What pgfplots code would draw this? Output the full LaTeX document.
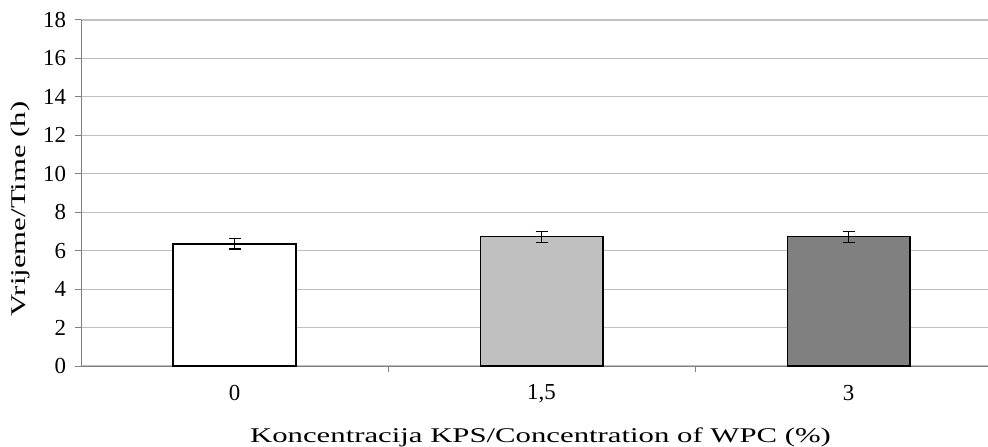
\documentclass[border=0pt]{standalone}
\usepackage{pgfplots}
\pgfplotsset{compat=1.18}
\usepackage{fontspec}
\setmainfont{Liberation Serif}
\newfontfamily\lblfont[FakeStretch=1.47]{Liberation Serif}
\definecolor{gridc}{HTML}{BFBFBF}
\definecolor{axc}{HTML}{808080}
\definecolor{barA}{HTML}{FFFFFF}
\definecolor{barB}{HTML}{C0C0C0}
\definecolor{barC}{HTML}{808080}
\begin{document}
\fontsize{23}{27}\selectfont
\begin{tikzpicture}
\begin{axis}[
  at={(0,0)}, anchor=south west,
  scale only axis,
  width=907bp, height=346bp,
  xmin=-0.5, xmax=2.454,
  ymin=0, ymax=18,
  ytick={0,2,...,18},
  xtick={0,1,2},
  xticklabels={0,{1,5},3},
  minor xtick={0.5,1.5},
  axis x line*=bottom,
  axis y line*=left,
  axis line style={axc, line width=1pt},
  ymajorgrids,
  grid style={gridc, line width=1.2pt},
  major tick length=6bp,
  minor tick length=6bp,
  tick align=outside,
  xtick style={draw=none},
  minor x tick style={draw=axc, line width=1pt},
  ytick style={axc, line width=1pt},
  tick label style={font=\fontsize{23}{27}\selectfont},
  /pgf/number format/assume math mode=true,
  xticklabel style={yshift=-5bp},
  yticklabel style={xshift=-1bp},
  xlabel={Koncentracija KPS/Concentration of WPC (\%)},
  ylabel={Vrijeme/Time (h)},
  label style={font=\lblfont\fontsize{21}{25}\selectfont},
  xlabel style={at={(axis description cs:0.5,0)}, anchor=center, yshift=-71bp, xshift=6bp},
  ylabel style={at={(axis description cs:0,0.5)}, anchor=center, yshift=61bp, xshift=-16bp},
  ybar, bar width=0.4, bar shift=0pt,
  clip=false,
]
\addplot[fill=barA, draw=black, line width=1.3pt,
  error bars/.cd, y dir=both, y explicit,
  error bar style={black, line width=1.3pt},
  error mark options={rotate=90, mark size=6bp, line width=1.3pt, black}]
  coordinates {(0,6.35) +- (0,0.27)};
\addplot[fill=barB, draw=black, line width=1.3pt,
  error bars/.cd, y dir=both, y explicit,
  error bar style={black, line width=1.3pt},
  error mark options={rotate=90, mark size=6bp, line width=1.3pt, black}]
  coordinates {(1,6.72) +- (0,0.28)};
\addplot[fill=barC, draw=black, line width=1.3pt,
  error bars/.cd, y dir=both, y explicit,
  error bar style={black, line width=1.3pt},
  error mark options={rotate=90, mark size=6bp, line width=1.3pt, black}]
  coordinates {(2,6.72) +- (0,0.28)};
\end{axis}
\pgfresetboundingbox
\path[use as bounding box] (-81bp,-81bp) rectangle (907bp,366bp);
\end{tikzpicture}
\end{document}
